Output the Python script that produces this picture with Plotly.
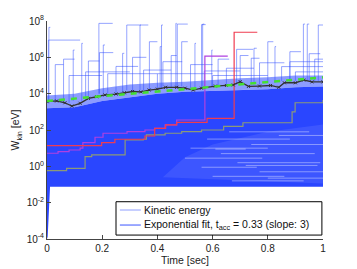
import plotly.graph_objects as go

# ---------------- data (exponents are log10 of W_kin in eV) ----------------
# dense particle band
core_t   = [0.0, 0.1, 0.2, 0.3, 0.4, 0.5, 0.6, 0.7, 0.8, 0.9, 1.0]
core_top = [3.2, 3.25, 3.6, 3.8, 4.0, 4.1, 4.15, 4.2, 4.25, 4.35, 4.4]
halo_top = [3.9, 4.0, 4.3, 4.5, 4.6, 4.65, 4.75, 4.85, 4.9, 5.0, 5.0]
low_t    = [0.0, 0.0025, 0.011, 1.0]
low_e    = [-4.0, -3.86, -1.12, -1.12]

# sparser lower-right region (lighter)
light_t = [0.42, 0.5, 0.6, 0.8, 1.0, 1.0]
light_e = [-0.6, 0.5, 1.2, 1.9, 2.3, -0.95]

# white gaps between trajectories (lower right)
streak_t0 = [0.66, 0.58, 0.74, 0.52, 0.63, 0.50, 0.69, 0.56, 0.77, 0.60, 0.67, 0.84, 0.61, 0.72, 0.80]
streak_t1 = [0.95, 0.88, 1.00, 0.80, 0.97, 0.78, 0.99, 0.76, 1.00, 0.86, 0.93, 1.00, 0.72, 0.98, 1.00]
streak_e  = [1.90, 1.50, 1.20, 1.00, 0.70, 0.45, 0.20, -0.05, -0.30, -0.55, -0.80, 1.70, 0.95, 0.05, -0.65]

# individual energetic trajectories: jump time, level before, level after, end time
spike_t   = [0.007, 0.005, 0.188, 0.289, 0.467, 0.472, 0.560, 0.564, 0.929, 0.943, 0.983,
             0.800, 0.826, 0.750, 0.880, 0.095, 0.126, 0.204, 0.337, 0.371, 0.410, 0.488,
             0.536, 0.687, 0.274, 0.415, 0.597, 0.420, 0.880, 0.850, 0.900, 0.740,
             0.030, 0.060, 0.150, 0.190, 0.250, 0.310, 0.450, 0.520, 0.620, 0.650,
             0.700, 0.770, 0.950, 0.970, 0.140, 0.350, 0.570, 0.080, 0.220, 0.400, 0.600]
spike_lo  = [3.5, 3.5, 4.0, 4.2, 4.3, 4.3, 4.3, 4.4, 4.7, 4.7, 4.7,
             4.6, 4.6, 4.5, 4.6, 3.6, 3.6, 4.0, 4.2, 4.2, 4.3, 4.4,
             4.3, 4.5, 4.1, 4.3, 4.4, 4.4, 4.7, 4.7, 4.7, 4.6,
             3.6, 3.6, 3.8, 4.0, 4.0, 4.1, 4.3, 4.3, 4.4, 4.5,
             4.5, 4.5, 4.7, 4.7, 3.8, 4.2, 4.3, 3.5, 4.0, 4.3, 4.4]
spike_hi  = [7.65, 6.95, 7.87, 7.78, 7.87, 7.83, 7.80, 7.83, 7.83, 7.83, 7.78,
             6.86, 6.59, 6.50, 6.31, 6.40, 6.77, 6.68, 7.78, 6.86, 6.59, 6.86,
             6.77, 6.44, 6.22, 7.78, 6.40, 5.76, 5.76, 5.49, 5.20, 5.95,
             5.60, 5.90, 5.80, 6.26, 5.50, 6.00, 6.10, 5.60, 5.90, 5.40,
             6.10, 5.70, 6.20, 5.90, 5.20, 5.30, 5.25, 5.00, 5.10, 5.10, 5.00]
spike_end = [0.012, 0.120, 0.238, 0.367, 0.470, 0.510, 0.575, 0.570, 0.935, 0.950, 1.000,
             0.820, 0.830, 0.760, 0.920, 0.100, 0.130, 0.210, 0.340, 0.400, 0.415, 0.510,
             0.540, 0.747, 0.280, 0.420, 0.600, 0.490, 1.000, 1.000, 1.000, 0.770,
             0.060, 0.100, 0.190, 0.240, 0.330, 0.360, 0.470, 0.600, 0.660, 0.750,
             0.730, 0.860, 0.990, 1.000, 0.300, 0.450, 0.700, 0.200, 0.400, 0.600, 0.800]

# highlighted trajectories (step paths, hv)
red_t = [0.0, 0.198, 0.246, 0.355, 0.39, 0.43, 0.47, 0.58, 0.678, 0.762]
red_e = [1.14, 1.30, 1.49, 1.67, 2.09, 2.28, 2.42, 2.64, 7.38, 7.38]
pur_t = [0.0, 0.04, 0.08, 0.12, 0.13, 0.174, 0.203, 0.29, 0.355, 0.39, 0.428, 0.47, 0.572, 0.655]
pur_e = [0.72, 0.81, 0.90, 1.00, 1.30, 1.60, 1.82, 1.91, 2.00, 2.09, 2.28, 2.55, 6.07, 6.07]
gray_t = [0.0, 0.071, 0.138, 0.162, 0.283, 0.349, 0.36, 0.428, 0.488, 0.56, 0.64, 0.71, 0.888, 0.899, 1.0]
gray_e = [-0.24, -0.11, 0.53, 0.63, 1.45, 1.49, 1.73, 1.82, 1.91, 2.0, 2.2, 2.4, 3.0, 3.5, 3.65]

# mean energy (black) and exponential fit (green)
mean_t = [0.0, 0.035, 0.065, 0.09, 0.12, 0.15, 0.18, 0.21, 0.25, 0.28, 0.31, 0.34, 0.37, 0.40,
          0.43, 0.47, 0.50, 0.53, 0.56, 0.61, 0.65, 0.675, 0.70, 0.73, 0.77, 0.81, 0.84, 0.86,
          0.90, 0.93, 0.96, 1.0]
mean_e = [3.56, 3.60, 3.50, 3.32, 3.47, 3.74, 3.83, 3.93, 3.98, 4.05, 4.12, 4.10, 4.20, 4.25,
          4.35, 4.35, 4.30, 4.20, 4.30, 4.42, 4.45, 4.48, 4.66, 4.40, 4.42, 4.45, 4.35, 4.60,
          4.60, 4.75, 4.65, 4.65]
fit_t = [0.0, 0.1, 0.2, 0.3, 0.4, 0.5, 0.6, 0.7, 0.8, 0.9, 1.0]
fit_e = [3.60, 3.73, 3.86, 3.99, 4.12, 4.25, 4.38, 4.51, 4.64, 4.77, 4.90]

x_ticks = [0, 0.2, 0.4, 0.6, 0.8, 1]
x_ticklabels = ["0", "0.2", "0.4", "0.6", "0.8", "1"]
y_tick_exps = [-4, -2, 0, 2, 4, 6, 8]
legend_labels = ["Kinetic energy", "Exponential fit, t<sub>acc</sub> = 0.33 (slope: 3)"]

# ---------------- figure ----------------
def W(es):
    return [10 ** e for e in es]

BAND = "#2a46ff"
fig = go.Figure()

fig.add_trace(go.Scatter(
    x=core_t + core_t[::-1], y=W(halo_top + core_top[::-1]),
    fill="toself", fillcolor="rgba(45,75,255,0.55)", line=dict(width=0), mode="lines",
    showlegend=False, hoverinfo="skip"))
fig.add_trace(go.Scatter(
    x=core_t + low_t[::-1], y=W(core_top + low_e[::-1]),
    fill="toself", fillcolor=BAND, line=dict(width=0), mode="lines",
    showlegend=False, hoverinfo="skip"))
fig.add_trace(go.Scatter(
    x=light_t, y=W(light_e),
    fill="toself", fillcolor="rgba(255,255,255,0.09)", line=dict(width=0), mode="lines",
    showlegend=False, hoverinfo="skip"))
for t0, t1, e in zip(streak_t0, streak_t1, streak_e):
    fig.add_trace(go.Scatter(
        x=[t0, t1], y=W([e, e]), mode="lines",
        line=dict(color="rgba(255,255,255,0.4)", width=1),
        showlegend=False, hoverinfo="skip"))

for t, lo, hi, te in zip(spike_t, spike_lo, spike_hi, spike_end):
    fig.add_trace(go.Scatter(
        x=[t, t, te], y=W([lo, hi, hi]), mode="lines",
        line=dict(color="rgba(45,75,255,0.5)", width=1),
        showlegend=False, hoverinfo="skip"))

fig.add_trace(go.Scatter(x=gray_t, y=W(gray_e), mode="lines", line_shape="hv",
                         line=dict(color="#8c9a78", width=1.2), showlegend=False))
fig.add_trace(go.Scatter(x=pur_t, y=W(pur_e), mode="lines", line_shape="hv",
                         line=dict(color="#b040e0", width=1.2), showlegend=False))
fig.add_trace(go.Scatter(x=red_t, y=W(red_e), mode="lines", line_shape="hv",
                         line=dict(color="#f03c50", width=1.2), showlegend=False))

fig.add_trace(go.Scatter(x=mean_t, y=W(mean_e), mode="lines+markers",
                         line=dict(color="#333333", width=1.3),
                         marker=dict(symbol="x-thin", size=3, color="#333333",
                                     line=dict(width=1, color="#333333")),
                         showlegend=False))
fig.add_trace(go.Scatter(x=fit_t, y=W(fit_e), mode="lines",
                         line=dict(color="#44e030", width=2.5, dash="6px,6px"),
                         showlegend=False))

# hand-built legend box (paper coordinates)
fig.add_shape(type="rect", xref="paper", yref="paper", x0=0.25, x1=0.996, y0=0.018, y1=0.171,
              line=dict(color="black", width=1), fillcolor="white", layer="above")
fig.add_shape(type="line", xref="paper", yref="paper", x0=0.264, x1=0.34, y0=0.133, y1=0.133,
              line=dict(color="#b4bfff", width=1.5), layer="above")
fig.add_shape(type="line", xref="paper", yref="paper", x0=0.264, x1=0.34, y0=0.064, y1=0.064,
              line=dict(color="#7d8eff", width=1.5), layer="above")
for lab, yy in zip(legend_labels, [0.135, 0.066]):
    fig.add_annotation(text=lab, xref="paper", yref="paper", x=0.346, y=yy,
                       xanchor="left", yanchor="middle", showarrow=False,
                       font=dict(size=10.5, color="#111"))

FONT = "Liberation Sans, Arial, sans-serif"
# the page body adds an 8px offset, so the figure is sized 8px smaller on each side
fig.update_layout(
    width=349, height=261,
    margin=dict(l=39, r=34, t=13, b=30),
    paper_bgcolor="white", plot_bgcolor="white",
    font=dict(family=FONT, size=10, color="#222222"),
    showlegend=False,
    xaxis=dict(range=[0, 1], tickvals=x_ticks, ticktext=x_ticklabels, automargin=False,
               ticks="inside", ticklen=4, tickcolor="#444",
               showline=True, linecolor="#444", linewidth=1, mirror=False,
               showgrid=False, zeroline=False,
               title=dict(text="Time [sec]", standoff=1, font=dict(size=10.5))),
    yaxis=dict(type="log", range=[-4, 8], automargin=False,
               tickvals=[10 ** e for e in y_tick_exps],
               ticktext=["10<sup>%d</sup>" % e for e in y_tick_exps],
               ticks="inside", ticklen=4, tickcolor="#444",
               showline=True, linecolor="#444", linewidth=1, mirror=False,
               showgrid=False, zeroline=False,
               title=dict(text="W<sub>kin</sub> [eV]", standoff=4, font=dict(size=10.5))),
)

fig.write_html("out.html")
